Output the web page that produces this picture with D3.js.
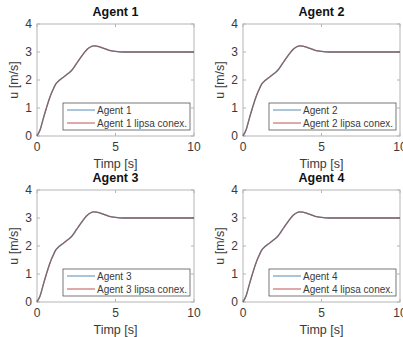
<!DOCTYPE html>
<html>
<head>
<meta charset="utf-8">
<script src="https://cdn.jsdelivr.net/npm/d3@7"></script>
<style>
  body { margin: 0; background: #fff; }
  svg { display: block; font-family: "Liberation Sans", Arial, sans-serif; }
</style>
</head>
<body>
<svg id="chart" width="403" height="337"></svg>
<script>
// viteza agentilor (aceeasi forma pentru toti 4)
const agents = ['Agent 1', 'Agent 2', 'Agent 3', 'Agent 4'];
const timp = [0, 0.2, 0.4, 0.6, 0.8, 1.0, 1.2, 1.4, 1.6, 1.8, 2.0, 2.2, 2.4, 2.6, 2.8, 3.0, 3.2, 3.4, 3.6, 3.8, 4.0, 4.3, 4.6, 5.0, 5.5, 6, 7, 8, 9, 10];
const vitNormal = [0, 0.22, 0.62, 1.0, 1.35, 1.63, 1.86, 1.98, 2.07, 2.15, 2.24, 2.34, 2.49, 2.66, 2.82, 2.97, 3.1, 3.18, 3.22, 3.21, 3.18, 3.12, 3.06, 3.02, 3.0, 3.0, 3.0, 3.0, 3.0, 3.0];
const vitLipsa = [0, 0.22, 0.62, 1.0, 1.35, 1.63, 1.86, 1.98, 2.07, 2.15, 2.24, 2.34, 2.49, 2.66, 2.82, 2.97, 3.1, 3.18, 3.22, 3.21, 3.18, 3.12, 3.06, 3.02, 3.0, 3.0, 3.0, 3.0, 3.0, 3.0];
const xTicks = [0, 5, 10];
const yTicks = [0, 1, 2, 3, 4];

const svg = d3.select('#chart');
const panels = [
  {l: 37, t: 24}, {l: 243, t: 24},
  {l: 37, t: 190}, {l: 243, t: 190}
];
const pw = 157, ph = 112;
const colBlue = '#6f9fc4';
const txt = '#3a3a3a';

agents.forEach((name, k) => {
  const p = panels[k];
  const g = svg.append('g').attr('transform', `translate(${p.l},${p.t})`);
  const x = d3.scaleLinear().domain([0, 10]).range([0, pw]);
  const y = d3.scaleLinear().domain([0, 4]).range([ph, 0]);

  // axes box
  g.append('rect').attr('width', pw).attr('height', ph)
    .attr('fill', '#fff').attr('stroke', '#b5b5b5').attr('stroke-width', 1);

  // ticks (inside, matlab style)
  const tl = 3;
  g.selectAll('.xt').data(xTicks).join('g').each(function (d) {
    const gg = d3.select(this);
    gg.append('line').attr('x1', x(d)).attr('x2', x(d)).attr('y1', ph).attr('y2', ph - tl).attr('stroke', '#b5b5b5');
    gg.append('line').attr('x1', x(d)).attr('x2', x(d)).attr('y1', 0).attr('y2', tl).attr('stroke', '#b5b5b5');
    gg.append('text').attr('x', x(d)).attr('y', ph + 15).attr('text-anchor', 'middle')
      .attr('font-size', 12).attr('fill', txt).text(d);
  });
  g.selectAll('.yt').data(yTicks).join('g').each(function (d) {
    const gg = d3.select(this);
    gg.append('line').attr('x1', 0).attr('x2', tl).attr('y1', y(d)).attr('y2', y(d)).attr('stroke', '#b5b5b5');
    gg.append('line').attr('x1', pw).attr('x2', pw - tl).attr('y1', y(d)).attr('y2', y(d)).attr('stroke', '#b5b5b5');
    gg.append('text').attr('x', -5).attr('y', y(d) + 4).attr('text-anchor', 'end')
      .attr('font-size', 12).attr('fill', txt).text(d);
  });

  // curves
  const line = d3.line().x(d => x(d[0])).y(d => y(d[1])).curve(d3.curveMonotoneX);
  g.append('path').datum(timp.map((t, i) => [t, vitNormal[i]]))
    .attr('d', line).attr('fill', 'none').attr('stroke', colBlue).attr('stroke-width', 1.3);
  g.append('path').datum(timp.map((t, i) => [t, vitLipsa[i]]))
    .attr('d', line).attr('fill', 'none').attr('stroke', '#8a5858').attr('stroke-width', 1.3)
    .attr('stroke-opacity', 0.85);

  // labels
  g.append('text').attr('x', pw / 2).attr('y', -8).attr('text-anchor', 'middle')
    .attr('font-size', 12.5).attr('font-weight', 'bold').attr('fill', '#111').text(name);
  g.append('text').attr('x', pw / 2).attr('y', ph + 32).attr('text-anchor', 'middle')
    .attr('font-size', 12.5).attr('fill', txt).text('Timp [s]');
  g.append('text').attr('transform', `translate(-19,${ph / 2}) rotate(-90)`)
    .attr('text-anchor', 'middle').attr('font-size', 12.5).attr('fill', txt).text('u [m/s]');

  // legend
  const lw = 127, lh = 27;
  const lg = g.append('g').attr('transform', `translate(${pw - 4 - lw},${ph - 6 - lh})`);
  lg.append('rect').attr('width', lw).attr('height', lh).attr('fill', '#fff')
    .attr('stroke', '#555').attr('stroke-width', 0.8);
  const items = [[name, colBlue], [name + ' lipsa conex.', '#c87070']];
  items.forEach((it, i) => {
    const yy = 7 + i * 13;
    lg.append('line').attr('x1', 4).attr('x2', 32).attr('y1', yy).attr('y2', yy)
      .attr('stroke', it[1]).attr('stroke-width', 1.2);
    lg.append('text').attr('x', 34).attr('y', yy + 4).attr('font-size', 10)
      .attr('fill', txt).text(it[0]);
  });
});
</script>
</body>
</html>
